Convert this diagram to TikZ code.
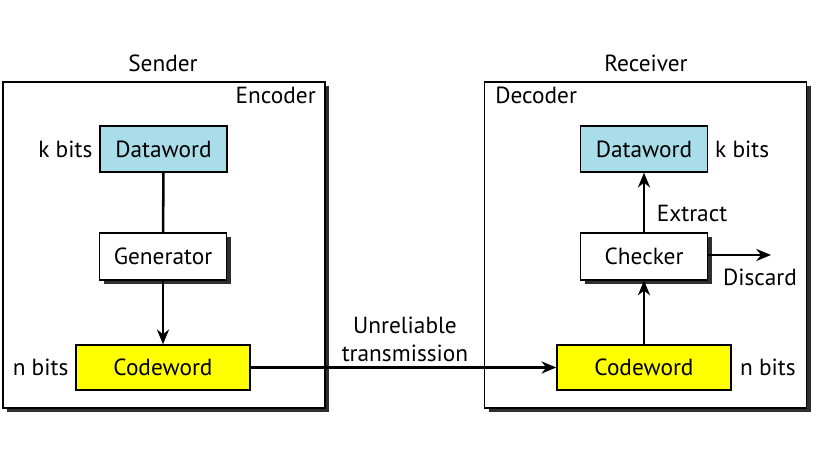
\documentclass[tikz,border=0pt]{standalone}
\usepackage{fontspec}
\setmainfont{PT Sans}
\usepackage{tikz}
\usetikzlibrary{arrows.meta,positioning,shadows}
\definecolor{DataBlue}{HTML}{A9DDE9}
\definecolor{CodeYellow}{HTML}{FFFF00}
\definecolor{ShadowGray}{HTML}{2E2E2E}

\begin{document}
\begin{tikzpicture}[
  x=0.75pt, y=-0.75pt,
  font=\fontsize{17.5}{21}\selectfont,
  shade/.style={drop shadow={shadow xshift=3.2pt, shadow yshift=-3.2pt,
    fill=ShadowGray, opacity=1}},
  frame/.style={
    draw=black, line width=1.1pt, fill=white, shade,
    minimum width=241.5pt, minimum height=244.5pt, inner sep=0pt
  },
  dataword/.style={
    draw=black, line width=1.1pt, fill=DataBlue,
    minimum width=95.25pt, minimum height=34.5pt, inner sep=0pt
  },
  unit/.style={
    draw=black, line width=1.1pt, fill=white, shade,
    minimum width=95.25pt, minimum height=35pt, inner sep=0pt
  },
  codeword/.style={
    draw=black, line width=1.1pt, fill=CodeYellow,
    minimum width=130.5pt, minimum height=33.75pt, inner sep=0pt
  },
  label/.style={inner sep=0pt},
  arrow/.style={-{Stealth[length=11pt, width=9pt, inset=3.5pt]}, line width=1.9pt},
  link/.style={line width=1.9pt}
]
\useasboundingbox (0,0) rectangle (821,466);

% sender side
\node[frame] (encoder) at (164,245) {};
\node[label] (sender) at (163,63) {Sender};
\node[label, anchor=north east] (enclabel) at (316,87) {Encoder};
\node[dataword] (dataL) at (163.5,149) {Dataword};
\node[unit] (generator) at (163,256.5) {Generator};
\node[codeword] (codeL) at (163,367.5) {Codeword};
\node[label, left=5pt of dataL] (kL) {k bits};
\node[label, left=5pt of codeL] (nL) {n bits};

% receiver side
\node[frame] (decoder) at (645.5,245) {};
\node[label] (receiver) at (646,63) {Receiver};
\node[label, anchor=north west] (declabel) at (495,87) {Decoder};
\node[dataword] (dataR) at (644,149) {Dataword};
\node[unit] (checker) at (644,256.5) {Checker};
\node[codeword] (codeR) at (644,367.5) {Codeword};
\node[label, right=5pt of dataR] (kR) {k bits};
\node[label, right=6pt of codeR] (nR) {n bits};
\coordinate (discard) at (771,255);
\node[label] (disclabel) at (760,277) {Discard};
\node[label] (extract) at (692,213) {Extract};

\node[label, align=center] (channel) at (405,339) {Unreliable\\transmission};

\draw[link] (dataL) -- (generator);
\draw[arrow] (generator) -- (codeL);
\draw[arrow] (codeL) -- (codeR);
\draw[arrow] (codeR) -- (checker);
\draw[arrow] (checker) -- (dataR);
\draw[arrow] (checker.east |- discard) -- (discard);
\end{tikzpicture}
\end{document}
